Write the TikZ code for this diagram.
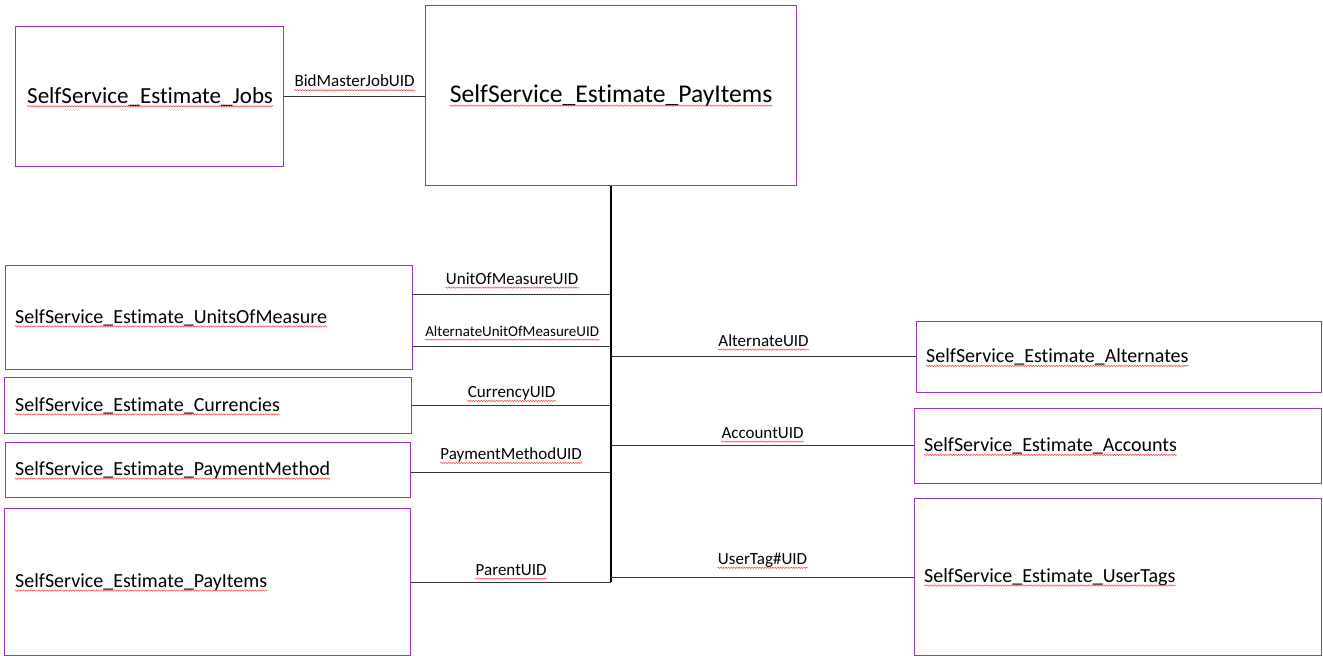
\documentclass[tikz,border=0pt]{standalone}
\usepackage{fontspec}
\setmainfont{Carlito}[Ligatures=NoCommon]
\usetikzlibrary{positioning,decorations.pathmorphing}

\definecolor{boxpurple}{RGB}{155,50,205}

\tikzset{
    tbl/.style 2 args={draw=boxpurple, line width=1.2pt, inner sep=0pt, anchor=north west,
        minimum width=#1, minimum height=#2},
    tname/.style={anchor=west, inner sep=0pt, font=\fontsize{20}{24}\selectfont},
    link/.style={draw=black!80, line width=1pt},
    trunk/.style={draw=black, line width=1.8pt},
    lbl/.style={above=9pt, inner sep=0pt, font=\fontsize{17}{20}\selectfont},
    squiggle/.style={draw=red!75, line width=0.5pt,
        decorate, decoration={snake, amplitude=0.7pt, segment length=2.6pt}}
}
\newcommand{\spellmark}[1]{\draw[squiggle] ([yshift=-3.2pt]#1.base west) -- ([yshift=-3.2pt]#1.base east);}

\begin{document}
\begin{tikzpicture}[x=1pt, y=-1pt]
    \useasboundingbox (0,0) rectangle (1323,656);

    % tables
    \node[tbl={268pt}{140pt}] (jobs) at (15,26) {};
    \node[tbl={371pt}{180pt}] (pay) at (425,5) {};
    \node[tbl={407pt}{104pt}] (uom) at (5,265) {};
    \node[tbl={407pt}{56pt}] (cur) at (4,377) {};
    \node[tbl={405pt}{55pt}] (pm) at (5,442) {};
    \node[tbl={406pt}{147pt}] (par) at (4,508) {};
    \node[tbl={405pt}{71pt}] (alt) at (916,321) {};
    \node[tbl={407pt}{75pt}] (acc) at (914,408) {};
    \node[tbl={407pt}{157pt}] (tag) at (914,498) {};

    % table names
    \node[font=\fontsize{25.6}{30}\selectfont, inner sep=0pt] (payT) at (pay.center) {SelfService\_Estimate\_PayItems};
    \node[tname, font=\fontsize{23}{27}\selectfont] (jobsT) at ([xshift=12pt]jobs.west) {SelfService\_Estimate\_Jobs};
    \node[tname] (uomT) at ([xshift=10pt]uom.west) {SelfService\_Estimate\_UnitsOfMeasure};
    \node[tname] (curT) at ([xshift=11pt]cur.west) {SelfService\_Estimate\_Currencies};
    \node[tname] (pmT) at ([xshift=10pt]pm.west) {SelfService\_Estimate\_PaymentMethod};
    \node[tname] (parT) at ([xshift=11pt]par.west) {SelfService\_Estimate\_PayItems};
    \node[tname] (altT) at ([xshift=10pt]alt.west) {SelfService\_Estimate\_Alternates};
    \node[tname] (accT) at ([xshift=10pt]acc.west) {SelfService\_Estimate\_Accounts};
    \node[tname] (tagT) at ([xshift=10pt]tag.west) {SelfService\_Estimate\_UserTags};

    % trunk out of the pay items table
    \coordinate (tR) at (pay.south |- 0,582);
    \draw[trunk] (pay.south) -- (tR);

    % points on the trunk
    \coordinate (tU) at (pay.south |- 0,294);
    \coordinate (tA) at (pay.south |- 0,346);
    \coordinate (tC) at (pay.south |- 0,405);
    \coordinate (tP) at (pay.south |- 0,472);
    \coordinate (tAl) at (pay.south |- 0,356);
    \coordinate (tAc) at (pay.south |- 0,445);
    \coordinate (tUt) at (pay.south |- 0,577);

    % relations
    \draw[link] (jobs.east) -- (jobs.east -| pay.west) node[midway, lbl] (lB) {BidMasterJobUID};
    \draw[link] (uom.east |- tU) -- (tU) node[midway, lbl] (lU) {UnitOfMeasureUID};
    \draw[link] (uom.east |- tA) -- (tA) node[midway, lbl, font=\fontsize{15}{18}\selectfont] (lA) {AlternateUnitOfMeasureUID};
    \draw[link] (cur.east |- tC) -- (tC) node[midway, lbl, above=4pt] (lC) {CurrencyUID};
    \draw[link] (pm.east |- tP) -- (tP) node[midway, lbl] (lP) {PaymentMethodUID};
    \draw[link] (par.east |- tR) -- (tR) node[midway, lbl, above=6pt] (lR) {ParentUID};
    \draw[link] (tAl) -- (tAl -| alt.west) node[midway, lbl] (lAl) {AlternateUID};
    \draw[link] (tAc) -- (tAc -| acc.west) node[midway, lbl, above=6pt] (lAc) {AccountUID};
    \draw[link] (tUt) -- (tUt -| tag.west) node[midway, lbl] (lUt) {UserTag\#UID};

    % spell check marks
    \foreach \n in {payT, jobsT, uomT, curT, pmT, parT, altT, accT, tagT,
                    lB, lU, lA, lC, lP, lR, lAl, lAc, lUt} {
        \spellmark{\n}
    }

\end{tikzpicture}
\end{document}
